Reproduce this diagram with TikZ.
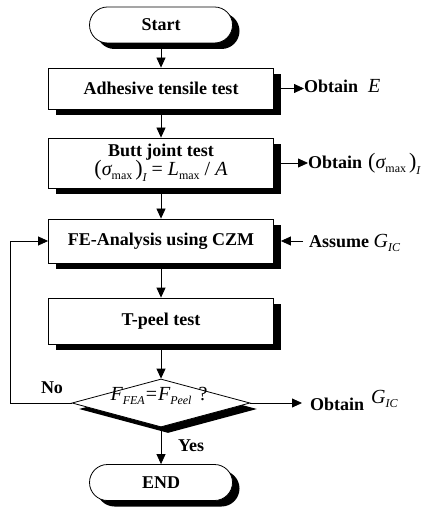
\documentclass[tikz,border=0pt]{standalone}
\usepackage{fontspec}
\setmainfont{Liberation Serif}
\usetikzlibrary{shapes.misc,shapes.geometric,shadows,arrows.meta}
\newcommand\mv[1]{{\fontsize{20}{20}\selectfont\mdseries\itshape #1}}
\newcommand\msb[1]{\raisebox{-4pt}{\fontsize{12}{12}\selectfont\mdseries\itshape #1}}
\newcommand\msbl[1]{\raisebox{-6pt}{\fontsize{12}{12}\selectfont\mdseries\itshape #1}}
\newcommand\msbu[1]{\raisebox{-4pt}{\fontsize{12}{12}\selectfont\mdseries\upshape #1}}
\newcommand\mpar[1]{{\fontsize{22}{22}\selectfont\mdseries\upshape #1}}
\newcommand\mr[1]{{\fontsize{20}{20}\selectfont\mdseries\upshape #1}}
\begin{document}
\begin{tikzpicture}[x=1pt,y=-1pt,
  lbl/.style={font=\bfseries\fontsize{18}{21}\selectfont},
  shad/.style={drop shadow={shadow xshift=7pt,shadow yshift=-6pt,fill=black,opacity=1}},
  proc/.style={draw, line width=0.8pt, fill=white, minimum width=225pt, inner sep=0pt, lbl, shad},
  term/.style={rounded rectangle, draw, line width=0.8pt, fill=white, minimum width=143pt, minimum height=36pt, inner sep=0pt, lbl, shad},
  arr/.style={-{Triangle[length=10pt,width=9pt]}, line width=0.8pt},
  side/.style={lbl, anchor=base west, inner ysep=0pt}
]
\useasboundingbox (0,0) rectangle (439,510);

\node[term] (start) at (161,25) {Start};
\node[proc, minimum height=41pt] (adh) at (161,88.5) {Adhesive tensile test};
\node[proc, minimum height=50pt, align=center] (butt) at (161,163)
  {Butt joint test\\[-2pt] \mpar{(}\mv{σ}\msbu{max}\,\mpar{)}\msbl{I}\mr{ = }\mv{L}\msbu{max}\mr{ / }\mv{A}};
\node[proc, minimum height=44pt] (fea) at (161,241) {FE-Analysis using CZM};
\node[proc, minimum height=46pt] (tp) at (161,321) {T-peel test};
\node[diamond, draw, line width=0.8pt, fill=white, minimum width=178pt, minimum height=48pt, inner sep=0pt, shad] (dec) at (161,403) {};
\node[anchor=base, inner sep=0pt] (dtx) at (159,400)
  {\mv{F}\msb{FEA}\mr{\kern1pt=\kern1pt}\mv{F}\msb{Peel}\mr{\kern7pt?}};
\node[term] (end) at (161,482.5) {END};

\node[side, inner xsep=0pt] (obtE) at (304,93) {Obtain\hspace{10pt}\mv{E}};
\node[side, inner xsep=0pt] (obtS) at (308,169) {Obtain\hspace{6pt}\mpar{(}\mv{σ}\msbu{max}\,\mpar{)}\msbl{I}};
\node[side, inner xsep=6pt] (asm) at (303,247) {Assume \mv{G}\msb{IC}};
\node[side, inner xsep=8pt] (obtG) at (302,410) {Obtain\hspace{7pt}\raisebox{7pt}{\mv{G}\msb{IC}}};
\node[lbl] (no) at (52,388) {No};
\node[lbl] (yes) at (191,446) {Yes};

\draw[arr] (start.south) -- (adh.north);
\draw[arr] (adh.south) -- (butt.north);
\draw[arr] (butt.south) -- (fea.north);
\draw[arr] (fea.south) -- (tp.north);
\draw[arr] (tp.south) -- (dec.north);
\draw[arr] (dec.south) -- (end.north);

\draw[arr] (adh.east) -- (adh.east -| obtE.west);
\draw[arr] (butt.east) -- (butt.east -| obtS.west);
\draw[arr] (fea.east -| asm.west) -- ([xshift=7pt]fea.east);
\draw[arr] (dec.east) -- (dec.east -| obtG.west);
\draw[arr] (dec.west) -| ([xshift=-38pt]fea.west) -- (fea.west);
\end{tikzpicture}
\end{document}
